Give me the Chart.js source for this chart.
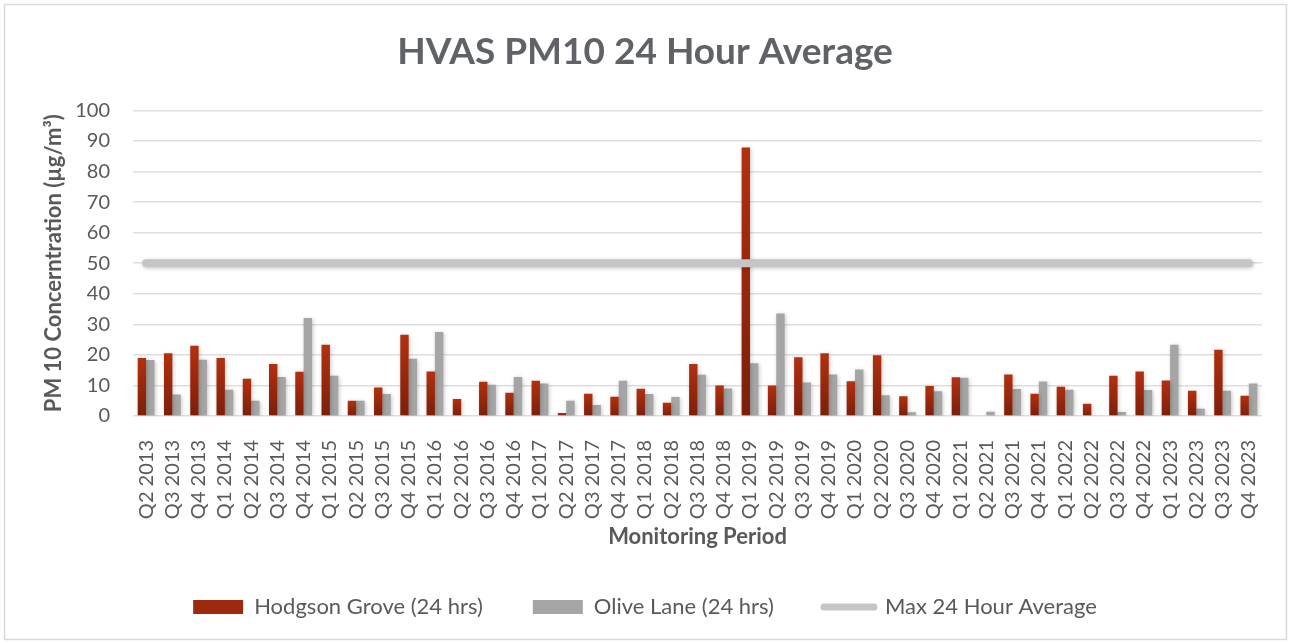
<!DOCTYPE html>
<html>
<head>
<meta charset="utf-8">
<script src="https://cdn.jsdelivr.net/npm/chart.js@4.4.1/dist/chart.umd.min.js"></script>
<style>
html, body { margin: 0; padding: 0; background: #fff; }
#wrap { width: 1290px; height: 643px; }
</style>
</head>
<body>
<div id="wrap"><canvas id="chart" width="1290" height="643"></canvas></div>
<script>
// quarters shown on the x axis
const quarters = [
    "Q2 2013", "Q3 2013", "Q4 2013",
    "Q1 2014", "Q2 2014", "Q3 2014", "Q4 2014",
    "Q1 2015", "Q2 2015", "Q3 2015", "Q4 2015",
    "Q1 2016", "Q2 2016", "Q3 2016", "Q4 2016",
    "Q1 2017", "Q2 2017", "Q3 2017", "Q4 2017",
    "Q1 2018", "Q2 2018", "Q3 2018", "Q4 2018",
    "Q1 2019", "Q2 2019", "Q3 2019", "Q4 2019",
    "Q1 2020", "Q2 2020", "Q3 2020", "Q4 2020",
    "Q1 2021", "Q2 2021", "Q3 2021", "Q4 2021",
    "Q1 2022", "Q2 2022", "Q3 2022", "Q4 2022",
    "Q1 2023", "Q2 2023", "Q3 2023", "Q4 2023"
];

// PM10 24 hr results (µg/m³)
const hodgsonGrove = [
    19, 20.5, 23,
    19, 12.2, 17, 14.5,
    23.3, 5, 9.3, 26.6,
    14.6, 5.6, 11.2, 7.6,
    11.5, 1, 7.3, 6.3,
    8.9, 4.3, 17, 10,
    87.9, 10, 19.2, 20.5,
    11.4, 19.9, 6.5, 9.8,
    12.7, null, 13.6, 7.3,
    9.6, 4, 13.2, 14.6,
    11.6, 8.3, 21.7, 6.6
];

const oliveLane = [
    18.3, 7, 18.4,
    8.6, 5, 12.8, 32.1,
    13.2, 5, 7.2, 18.7,
    27.5, null, 10.2, 12.8,
    10.6, 5, 3.6, 11.5,
    7.2, 6.2, 13.5, 9,
    17.3, 33.5, 11, 13.6,
    15.2, 6.8, 1.2, 8.1,
    12.5, 1.4, 8.8, 11.3,
    8.6, null, 1.3, 8.5,
    23.3, 2.4, 8.3, 10.6
];

// criterion line
const maxDailyAverage = 50;
const maxLine = quarters.map(() => maxDailyAverage);

const yMin = 0;
const yMax = 100;
const yStep = 10;

const textColor = "#595959";
const fontFamily = "Lato, 'Open Sans', sans-serif";

function redFill(context) {
    if (context.type !== "data") return "#9e2a0d";
    const chart = context.chart;
    const yScale = chart.scales.y;
    if (!yScale || context.parsed == null || context.parsed.y == null) return "#9e2a0d";
    const top = yScale.getPixelForValue(context.parsed.y);
    const base = yScale.getPixelForValue(0);
    if (!isFinite(top) || !isFinite(base) || top === base) return "#9e2a0d";
    const g = chart.ctx.createLinearGradient(0, top, 0, base);
    g.addColorStop(0, "#b3300f");
    g.addColorStop(1, "#7b1f0a");
    return g;
}

// white background plus thin outer frame
const framePlugin = {
    id: "frame",
    beforeDraw(chart) {
        const ctx = chart.ctx;
        ctx.save();
        ctx.fillStyle = "#ffffff";
        ctx.fillRect(0, 0, chart.width, chart.height);
        ctx.restore();
    },
    afterDraw(chart) {
        const ctx = chart.ctx;
        ctx.save();
        ctx.strokeStyle = "#d9d9d9";
        ctx.lineWidth = 1.5;
        ctx.strokeRect(4.5, 4.5, chart.width - 8, chart.height - 8);
        ctx.restore();
    }
};

// soft shadow under the marks, like the office chart
const shadowPlugin = {
    id: "softShadow",
    beforeDatasetsDraw(chart) {
        const ctx = chart.ctx;
        ctx.save();
        ctx.shadowColor = "rgba(0, 0, 0, 0.22)";
        ctx.shadowBlur = 4;
        ctx.shadowOffsetX = 1;
        ctx.shadowOffsetY = 1;
    },
    afterDatasetsDraw(chart) {
        chart.ctx.restore();
    }
};

// legend keeps wide gaps between items but not the tall box that comes with them
const legendHeight = 97;
const legendFitPlugin = {
    id: "legendFit",
    beforeLayout(chart) {
        const legend = chart.legend;
        if (!legend || legend._fitPatched) return;
        const origFit = legend.fit;
        legend.fit = function() {
            origFit.call(this);
            this.height = legendHeight;
        };
        legend._fitPatched = true;
    }
};

const ctx = document.getElementById("chart").getContext("2d");
new Chart(ctx, {
    data: {
        labels: quarters,
        datasets: [
            {
                type: "bar",
                label: "Hodgson Grove (24 hrs)",
                data: hodgsonGrove,
                backgroundColor: redFill,
                categoryPercentage: 0.64,
                barPercentage: 1,
                order: 2
            },
            {
                type: "bar",
                label: "Olive Lane (24 hrs)",
                data: oliveLane,
                backgroundColor: "#a5a5a5",
                categoryPercentage: 0.64,
                barPercentage: 1,
                order: 2
            },
            {
                type: "line",
                label: "Max 24 Hour Average",
                data: maxLine,
                borderColor: "#c4c5c7",
                backgroundColor: "#c4c5c7",
                borderWidth: 8,
                borderCapStyle: "round",
                pointRadius: 0,
                fill: false,
                order: 1
            }
        ]
    },
    options: {
        responsive: false,
        animation: false,
        layout: {
            padding: { top: 0, left: 28, right: 28, bottom: 0 }
        },
        plugins: {
            title: {
                display: true,
                text: "HVAS PM10 24 Hour Average",
                color: "#5f6266",
                font: { family: fontFamily, size: 37, weight: "bold" },
                padding: { top: 30, bottom: 36 }
            },
            legend: {
                position: "bottom",
                labels: {
                    color: textColor,
                    font: { family: fontFamily, size: 22 },
                    usePointStyle: true,
                    pointStyleWidth: 50,
                    boxHeight: 14,
                    padding: 50,
                    generateLabels(chart) {
                        return chart.data.datasets.map((ds, i) => {
                            const isLine = ds.type === "line";
                            return {
                                text: ds.label,
                                datasetIndex: i,
                                fillStyle: isLine ? "#c4c5c7" : (i === 0 ? "#9e2a0d" : "#a5a5a5"),
                                strokeStyle: isLine ? "#c4c5c7" : "rgba(0,0,0,0)",
                                lineWidth: isLine ? 7 : 0,
                                lineCap: "round",
                                pointStyle: isLine ? "line" : "rect",
                                fontColor: textColor,
                                hidden: false
                            };
                        });
                    }
                }
            },
            tooltip: { enabled: false }
        },
        scales: {
            x: {
                offset: true,
                grid: { display: false },
                border: { display: false },
                ticks: {
                    color: textColor,
                    font: { family: fontFamily, size: 20 },
                    minRotation: 90,
                    maxRotation: 90,
                    autoSkip: false,
                    padding: 16
                },
                title: {
                    display: true,
                    text: "Monitoring Period",
                    color: textColor,
                    font: { family: fontFamily, size: 22, weight: "bold" },
                    padding: { top: 0, bottom: -4 }
                },
                afterFit(axis) {
                    axis.height = 130;
                }
            },
            y: {
                min: yMin,
                max: yMax,
                grid: { color: "#dedede", lineWidth: 1.5, drawTicks: false },
                border: { display: false },
                ticks: {
                    stepSize: yStep,
                    color: textColor,
                    font: { family: fontFamily, size: 20 },
                    padding: 23
                },
                title: {
                    display: true,
                    text: "PM 10 Concerntration (µg/m³)",
                    color: textColor,
                    font: { family: fontFamily, size: 22, weight: "bold" },
                    padding: { top: 13, bottom: 0 }
                },
                afterFit(axis) {
                    axis.width = 105;
                }
            }
        }
    },
    plugins: [framePlugin, shadowPlugin, legendFitPlugin]
});
</script>
</body>
</html>
